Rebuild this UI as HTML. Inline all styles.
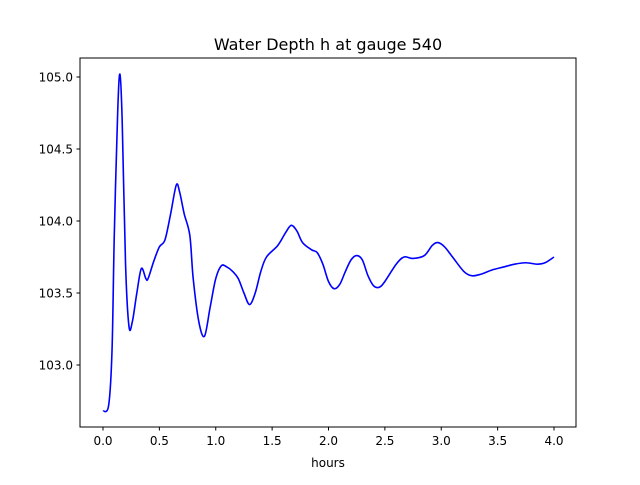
<!DOCTYPE html>
<html><head><meta charset="utf-8"><style>
body{margin:0;background:#fff;font-family:"Liberation Sans","DejaVu Sans",sans-serif;}
svg text{font-family:"DejaVu Sans","Liberation Sans",sans-serif;}
</style></head><body>
<svg id="chart" width="640" height="480" viewBox="0 0 640 480" xmlns="http://www.w3.org/2000/svg">
<rect width="640" height="480" fill="#fff"/>
<text x="328" y="50" text-anchor="middle" font-size="16">Water Depth h at gauge 540</text>
<g id="ticks"></g>
<path id="series" fill="none" stroke="#0000ff" stroke-width="1.6" stroke-linejoin="round"/>
<rect x="80" y="58" width="496" height="369" fill="none" stroke="#000" stroke-width="1"/>
<text x="328" y="467" text-anchor="middle" font-size="12">hours</text>
</svg>
<script>
const hours=[0.0,0.05,0.08,0.10,0.13,0.15,0.17,0.20,0.23,0.26,0.30,0.34,0.38,0.40,0.45,0.50,0.55,0.60,0.65,0.68,0.72,0.77,0.80,0.85,0.90,0.95,1.00,1.05,1.10,1.15,1.20,1.25,1.30,1.35,1.40,1.45,1.55,1.62,1.67,1.72,1.77,1.85,1.90,1.95,2.00,2.05,2.10,2.15,2.20,2.25,2.30,2.35,2.40,2.45,2.50,2.60,2.67,2.75,2.85,2.92,2.97,3.03,3.10,3.20,3.27,3.35,3.45,3.55,3.65,3.75,3.85,3.92,4.00];
const depth=[102.68,102.72,103.1,103.9,104.75,105.02,104.7,103.7,103.27,103.3,103.5,103.67,103.6,103.6,103.72,103.82,103.87,104.05,104.25,104.2,104.05,103.9,103.6,103.3,103.2,103.4,103.6,103.69,103.68,103.65,103.6,103.5,103.42,103.5,103.65,103.75,103.83,103.92,103.97,103.93,103.85,103.8,103.78,103.7,103.58,103.53,103.56,103.65,103.73,103.76,103.73,103.62,103.55,103.54,103.58,103.7,103.75,103.74,103.76,103.83,103.85,103.82,103.75,103.65,103.62,103.63,103.66,103.68,103.7,103.71,103.7,103.71,103.75];
const xTicks=[0,0.5,1,1.5,2,2.5,3,3.5,4];
const yTicks=[103.0,103.5,104.0,104.5,105.0];
const X=v=>103+v*112.75;
const Y=v=>365-(v-103)*144;
const NS="http://www.w3.org/2000/svg";
const g=document.getElementById('ticks');
function mk(tag,attrs){const e=document.createElementNS(NS,tag);for(const k in attrs)e.setAttribute(k,attrs[k]);g.appendChild(e);return e;}
xTicks.forEach(t=>{
 const l=mk('line',{x1:X(t),x2:X(t),y1:427,y2:430.5,stroke:'#000'});
 
 
 const s=mk('text',{x:X(t),y:445,'text-anchor':'middle','font-size':12});
 s.textContent=t.toFixed(1);
 
 
});
yTicks.forEach(t=>{
 const l=mk('line',{x1:76.5,x2:80,y1:Y(t),y2:Y(t),stroke:'#000'});
 
 
 const s=mk('text',{x:73,y:Y(t)+4.5,'text-anchor':'end','font-size':12});
 s.textContent=t.toFixed(1);
 
 
});
// Catmull-Rom smooth path
const P=hours.map((h,i)=>[X(h),Y(depth[i])]);
let d='M'+P[0][0]+','+P[0][1];
for(let i=0;i<P.length-1;i++){
 const p0=P[Math.max(0,i-1)],p1=P[i],p2=P[i+1],p3=P[Math.min(P.length-1,i+2)];
 const c1=[p1[0]+(p2[0]-p0[0])/6,p1[1]+(p2[1]-p0[1])/6];
 const c2=[p2[0]-(p3[0]-p1[0])/6,p2[1]-(p3[1]-p1[1])/6];
 d+=` C${c1[0]},${c1[1]} ${c2[0]},${c2[1]} ${p2[0]},${p2[1]}`;
}
document.getElementById('series').setAttribute('d',d);
</script>
</body></html>
